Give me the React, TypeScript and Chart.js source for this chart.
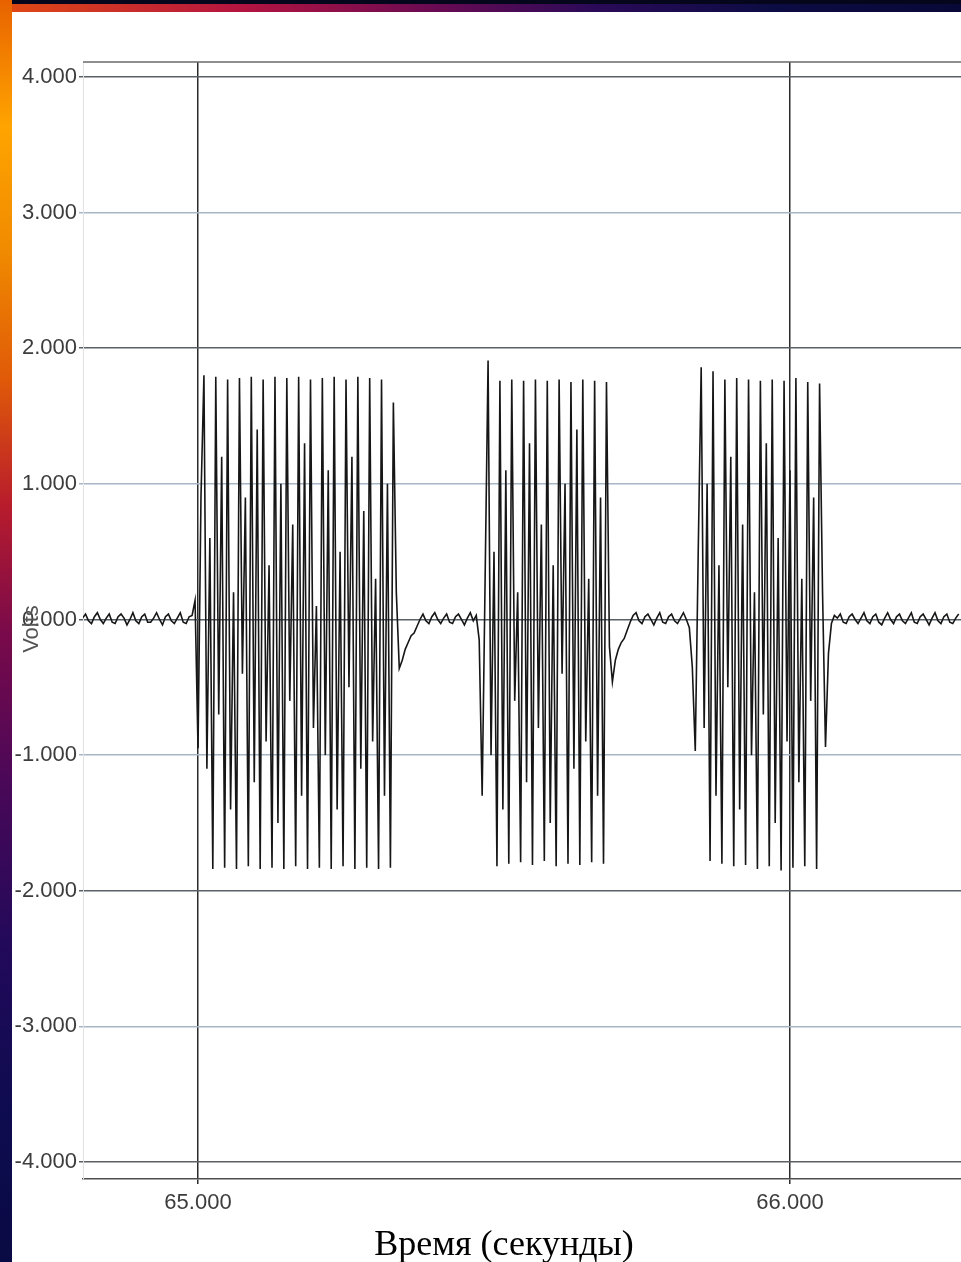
import { useEffect, useRef } from "react";
import { Chart, registerables } from "chart.js";

Chart.register(...registerables);

// ---------- data ----------
const SAMPLE_STEP = 0.005; // seconds between samples

const X_TICKS = [65, 66];
const Y_TICKS = [-4, -3, -2, -1, 0, 1, 2, 3, 4];
const X_MIN = 64.8057;
const X_MAX = 66.2889;
const Y_MIN = -4.125;
const Y_MAX = 4.11;

const SEGMENT_STARTS = [64.805, 65.0, 65.345, 65.475, 65.695, 65.835, 66.055];

const QUIET_1 = [
  0.01, 0.04, -0.01, -0.03, 0.02, 0.05, 0.0, -0.03, 0.01, 0.04, -0.02, -0.03,
  0.02, 0.04, 0.01, -0.04, 0.0, 0.05, -0.01, -0.03, 0.02, 0.04, -0.02, -0.02,
  0.01, 0.05, 0.0, -0.04, 0.02, 0.04, -0.01, -0.03, 0.01, 0.05, -0.02, -0.03,
  0.02, 0.03, 0.14,
];

const BURST_1 = [
  -0.95, 0.9,
  1.8, -1.1, 0.6, -1.84,
  1.79, -0.7, 1.2, -1.83,
  1.77, -1.4, 0.2, -1.84,
  1.78, -0.4, 0.9, -1.82,
  1.79, -1.2, 1.4, -1.84,
  1.77, -0.9, 0.4, -1.83,
  1.79, -1.5, 1.0, -1.84,
  1.78, -0.6, 0.7, -1.82,
  1.79, -1.3, 1.3, -1.84,
  1.77, -0.8, 0.1, -1.83,
  1.78, -1.0, 1.1, -1.84,
  1.79, -1.4, 0.5, -1.82,
  1.77, -0.5, 1.2, -1.84,
  1.79, -1.1, 0.8, -1.83,
  1.78, -0.9, 0.3, -1.84,
  1.77, -1.3, 1.0, -1.83,
  1.6,
  0.2, -0.36,
];

const QUIET_2 = [
  -0.3, -0.22, -0.17, -0.12, -0.1, -0.05, 0.0,
  0.04, -0.01, -0.03, 0.02, 0.05, 0.0, -0.03, 0.01, 0.04, -0.02, -0.03, 0.02,
  0.04, 0.0, -0.04, 0.01, 0.05, -0.01, 0.03,
];

const BURST_2 = [
  -0.15, -1.3, 0.3,
  1.91, -1.0, 0.5, -1.82,
  1.76, -1.4, 1.1, -1.8,
  1.77, -0.6, 0.2, -1.79,
  1.76, -1.2, 1.3, -1.81,
  1.77, -0.8, 0.7, -1.78,
  1.76, -1.5, 0.4, -1.82,
  1.77, -0.4, 1.0, -1.8,
  1.75, -1.1, 1.4, -1.81,
  1.77, -0.9, 0.3, -1.79,
  1.76, -1.3, 0.9, -1.8,
  1.75,
];

const QUIET_3 = [
  -0.2, -0.46, -0.3, -0.22, -0.17, -0.14, -0.08, -0.02,
  0.03, 0.05, -0.01, -0.03, 0.02, 0.04, 0.0, -0.04, 0.01, 0.05, -0.02, -0.03,
  0.02, 0.04, -0.01, -0.03, 0.01, 0.05, 0.0, -0.06,
];

const BURST_3 = [
  -0.35, -0.97, 0.5,
  1.86, -0.8, 1.0, -1.78,
  1.83, -1.3, 0.4, -1.8,
  1.77, -0.5, 1.2, -1.82,
  1.78, -1.4, 0.7, -1.81,
  1.77, -1.0, 0.2, -1.84,
  1.76, -0.7, 1.3, -1.82,
  1.77, -1.5, 0.6, -1.85,
  1.76, -0.9, 1.1, -1.83,
  1.78, -1.2, 0.3, -1.82,
  1.75, -0.6, 0.9, -1.84,
  1.74,
];

const QUIET_4 = [
  0.2, -0.94, -0.25, -0.03,
  0.03, 0.01, 0.04, -0.02, -0.03, 0.02, 0.04, 0.0, -0.03, 0.01,
  0.05, -0.01, -0.03, 0.02, 0.04, -0.02, -0.04, 0.01, 0.05, 0.0,
  -0.03, 0.02, 0.04, -0.01, -0.03, 0.01, 0.05, -0.02, -0.03, 0.02,
  0.04, 0.0, -0.04, 0.01, 0.05, -0.01, -0.03, 0.02, 0.04, -0.02,
  -0.03, 0.01, 0.04,
];

const SEGMENT_VALUES = [QUIET_1, BURST_1, QUIET_2, BURST_2, QUIET_3, BURST_3, QUIET_4];

const X_TITLE = "Время (секунды)";
const Y_TITLE = "Volts";

// ---------- component ----------
const topBorderPlugin = {
  id: "topBorder",
  beforeDatasetsDraw(chart: any) {
    const { ctx, chartArea } = chart;
    ctx.save();
    ctx.strokeStyle = "#6a6a6a";
    ctx.lineWidth = 1.5;
    ctx.beginPath();
    ctx.moveTo(chartArea.left, chartArea.top);
    ctx.lineTo(chartArea.right, chartArea.top);
    ctx.stroke();
    ctx.restore();
  },
};

export default function App() {
  const canvasRef = useRef<HTMLCanvasElement | null>(null);

  useEffect(() => {
    const points: { x: number; y: number }[] = [];
    SEGMENT_VALUES.forEach((vals, s) => {
      vals.forEach((v, k) => {
        points.push({ x: +(SEGMENT_STARTS[s] + k * SAMPLE_STEP).toFixed(4), y: v });
      });
    });

    const tickFont = { family: "'Liberation Sans', Arial, sans-serif", size: 22 };

    const chart = new Chart(canvasRef.current!, {
      type: "line",
      data: {
        datasets: [
          {
            data: points,
            borderColor: "#161616",
            borderWidth: 1.6,
            pointRadius: 0,
            tension: 0,
            fill: false,
          },
        ],
      },
      plugins: [topBorderPlugin],
      options: {
        animation: false,
        responsive: false,
        maintainAspectRatio: false,
        layout: { padding: { top: 62, right: 0, left: 0, bottom: 0 } },
        plugins: {
          legend: { display: false },
          tooltip: { enabled: false },
        },
        scales: {
          x: {
            type: "linear",
            min: X_MIN,
            max: X_MAX,
            afterBuildTicks: (scale: any) => {
              scale.ticks = X_TICKS.map((value) => ({ value }));
            },
            afterFit: (scale: any) => {
              scale.height = 83;
            },
            ticks: {
              font: tickFont,
              color: "#3c3c3c",
              padding: 6,
              maxRotation: 0,
              callback: (v: any) => Number(v).toFixed(3),
            },
            grid: {
              color: "#2a2a2a",
              lineWidth: 1.5,
              tickLength: 5,
              drawTicks: true,
            },
            border: { display: true, color: "#4e4e4e", width: 1.5 },
          },
          y: {
            type: "linear",
            min: Y_MIN,
            max: Y_MAX,
            afterBuildTicks: (scale: any) => {
              scale.ticks = Y_TICKS.map((value) => ({ value }));
            },
            afterFit: (scale: any) => {
              scale.width = 83;
            },
            ticks: {
              font: tickFont,
              color: "#3c3c3c",
              padding: 2,
              callback: (v: any) => Number(v).toFixed(3),
            },
            grid: {
              color: (ctx: any) =>
                ctx.tick && Math.abs(ctx.tick.value) % 2 === 0 ? "#5b6067" : "#a7b6c6",
              lineWidth: 1.5,
              tickLength: 4,
              drawTicks: true,
            },
            border: { display: true, color: "#e2e2e2", width: 1 },
          },
        },
      },
    });
    return () => chart.destroy();
  }, []);

  return (
    <div
      style={{
        position: "fixed",
        left: 0,
        top: 0,
        width: 961,
        height: 1262,
        background: "#ffffff",
        overflow: "hidden",
      }}
    >
      <canvas
        ref={canvasRef}
        width={961}
        height={1262}
        style={{ position: "absolute", left: 0, top: 0, width: 961, height: 1262 }}
      />
      <div
        style={{
          position: "absolute",
          left: 31 - 40,
          top: 629 - 13,
          width: 80,
          height: 26,
          lineHeight: "26px",
          textAlign: "center",
          transform: "rotate(-90deg)",
          fontFamily: "'Liberation Sans', Arial, sans-serif",
          fontSize: 22,
          color: "#555555",
        }}
      >
        {Y_TITLE}
      </div>
      <div
        style={{
          position: "absolute",
          left: 0,
          top: 1223,
          width: 1008,
          textAlign: "center",
          fontFamily: "'Liberation Serif', 'Times New Roman', serif",
          fontSize: 36,
          lineHeight: "40px",
          color: "#000",
        }}
      >
        {X_TITLE}
      </div>
      <div
        style={{
          position: "absolute",
          left: 0,
          top: 0,
          width: 961,
          height: 12,
          background:
            "linear-gradient(to bottom, #05051c 0px, #05051c 4px, rgba(0,0,0,0) 4px), linear-gradient(to right, #e24a12 0%, #b41440 25%, #6a0a52 45%, #2a0a58 62%, #0c0c44 80%, #080838 100%)",
        }}
      />
      <div
        style={{
          position: "absolute",
          left: 0,
          top: 0,
          width: 12,
          height: 1262,
          background:
            "linear-gradient(to bottom, #e86200 0%, #ffa400 10%, #f08a00 20%, #e05a08 30%, #b81c2c 40%, #7a0a4a 50%, #4a0858 62%, #22095a 75%, #0e0c50 88%, #0a0a44 100%)",
        }}
      />
    </div>
  );
}
